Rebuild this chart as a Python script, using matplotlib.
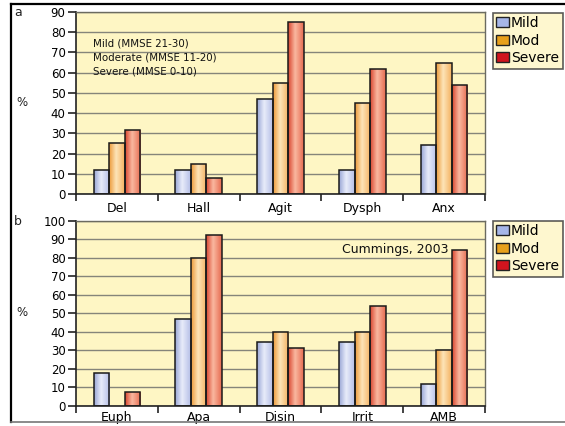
import matplotlib.pyplot as plt
import numpy as np
from matplotlib.colors import LinearSegmentedColormap
from matplotlib.lines import Line2D
from matplotlib.patches import Rectangle

# data
series = ['Mild', 'Mod', 'Severe']

groups_a = ['Del', 'Hall', 'Agit', 'Dysph', 'Anx']
mild_a = [12, 12, 47, 12, 24]
mod_a = [25, 15, 55, 45, 65]
severe_a = [31.5, 8, 85, 62, 54]

groups_b = ['Euph', 'Apa', 'Disin', 'Irrit', 'AMB']
mild_b = [17.5, 47, 34.5, 34.5, 12]
mod_b = [0, 80, 40, 40, 30]
severe_b = [7.5, 92, 31, 54, 84]

# bar shading (edge, highlight, edge) and legend swatches
shades = [('#9aa6d6', '#e8ecfa', '#b4bee6'),
          ('#ec9a3a', '#fde4b8', '#f4b060'),
          ('#d8462f', '#fab8a0', '#e66a50')]
swatches = ['#a6b6e8', '#e8a01c', '#d0141e']
bg = '#fef6c4'

W, H = 565, 426


def fig_box(left, top, right, bottom):
    return [left / W, 1 - bottom / H, (right - left) / W, (bottom - top) / H]


def shade_bars(ax, bars, colors):
    cmap = LinearSegmentedColormap.from_list(
        'bar', [(0, colors[0]), (0.45, colors[1]), (1, colors[2])])
    grad = np.linspace(0, 1, 64).reshape(1, -1)
    for b in bars:
        h = b.get_height()
        if h <= 0:
            b.set_visible(False)
            continue
        x, w = b.get_x(), b.get_width()
        im = ax.imshow(grad, extent=(x, x + w, 0, h), cmap=cmap,
                       aspect='auto', zorder=2, interpolation='bilinear')
        im.set_clip_path(b)


def panel(ax, groups, values, ymax, label_pad):
    ax.set_facecolor(bg)
    x = np.arange(len(groups))
    width = 0.19
    for i, vals in enumerate(values):
        bars = ax.bar(x + (i - 1) * width, vals, width, facecolor='none',
                      edgecolor='#1a1a1a', linewidth=1.1, zorder=3)
        shade_bars(ax, bars, shades[i])
    ax.set_xlim(-0.5, len(groups) - 0.5)
    ax.set_ylim(0, ymax)
    ax.set_yticks(np.arange(0, ymax + 1, 10))
    ax.yaxis.grid(True, color='#85857a', linewidth=1.0, zorder=1)
    ax.set_axisbelow(True)
    ax.set_xticks(x)
    ax.set_xticklabels(groups)
    ax.set_xticks(np.arange(-0.5, len(groups)), minor=True)
    ax.tick_params(axis='x', which='major', length=0, pad=label_pad,
                   labelsize=9)
    ax.tick_params(axis='x', which='minor', length=5, width=1.2,
                   direction='out', color='#222222')
    ax.tick_params(axis='y', length=6, width=1.2, pad=1.5, labelsize=8.5,
                   color='#222222')
    for s in ['left', 'bottom']:
        ax.spines[s].set_color('#222222')
        ax.spines[s].set_linewidth(1.2)
    for s in ['top', 'right']:
        ax.spines[s].set_color('#6b6b60')
        ax.spines[s].set_linewidth(1.0)
    handles = [Rectangle((0, 0), 1, 1, facecolor=c, edgecolor='#222222',
                         linewidth=1.0) for c in swatches]
    return handles


def main() -> None:
    plt.rcParams['font.family'] = ['DejaVu Sans']
    fig = plt.figure(figsize=(W / 100, H / 100), dpi=100)

    ax_a = fig.add_axes(fig_box(76, 12, 485, 194))
    ax_b = fig.add_axes(fig_box(76, 220.7, 485, 405.7))

    handles = panel(ax_a, groups_a, [mild_a, mod_a, severe_a], 90, 6)
    panel(ax_b, groups_b, [mild_b, mod_b, severe_b], 100, 3.5)

    for top in (12.7, 220.7):
        leg = fig.legend(handles, series, loc='upper left',
                         bbox_to_anchor=(493 / W, 1 - top / H),
                         fontsize=10, frameon=True, fancybox=False,
                         handlelength=0.9, handleheight=0.75,
                         handletextpad=0.15, borderpad=0.25,
                         labelspacing=0.25, borderaxespad=0)
        leg.get_frame().set_facecolor(bg)
        leg.get_frame().set_edgecolor('#333333')
        leg.get_frame().set_linewidth(1.2)

    # panel letters and unit labels
    fig.text(14 / W, 1 - 12.5 / H, 'a', fontsize=9, va='center', color='#222222')
    fig.text(14 / W, 1 - 221 / H, 'b', fontsize=9, va='center', color='#222222')
    fig.text(16 / W, 1 - 103 / H, '%', fontsize=8.5, va='center', color='#222222')
    fig.text(16 / W, 1 - 312 / H, '%', fontsize=8.5, va='center', color='#222222')

    notes = ['Mild (MMSE 21-30)', 'Moderate (MMSE 11-20)', 'Severe (MMSE 0-10)']
    for i, t in enumerate(notes):
        fig.text(93 / W, 1 - (43 + 14 * i) / H, t, fontsize=7.4,
                 va='center', color='#111111')
    fig.text(342 / W, 1 - 249 / H, 'Cummings, 2003', fontsize=9,
             va='center', color='#111111')

    # outer frame
    fig.add_artist(Line2D([11 / W, 1], [1 - 4 / H, 1 - 4 / H],
                          transform=fig.transFigure, color='black', lw=1.6))
    fig.add_artist(Line2D([11 / W, 11 / W], [1 - 4 / H, 1 - 422 / H],
                          transform=fig.transFigure, color='black', lw=1.6))
    fig.add_artist(Line2D([11 / W, 1], [1 - 422 / H, 1 - 422 / H],
                          transform=fig.transFigure, color='#777777', lw=1.2))

    fig.savefig('out.png', dpi=100)


if __name__ == "__main__":
    main()
